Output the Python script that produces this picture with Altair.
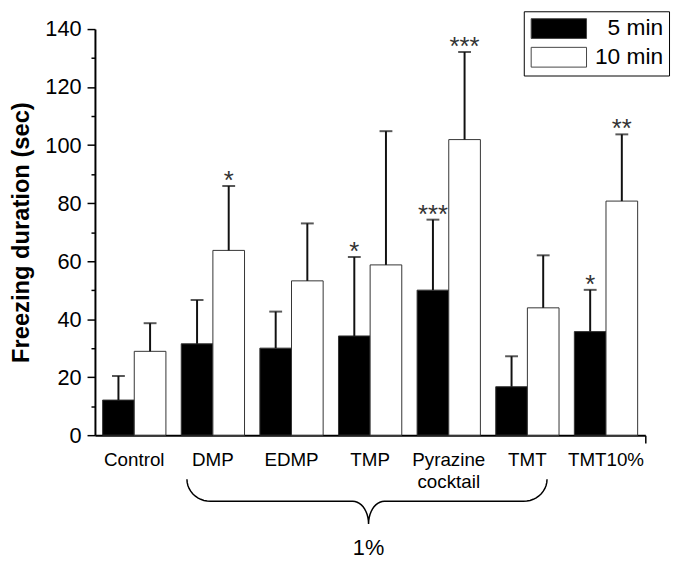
import altair as alt
import pandas as pd
import numpy as np

FONT = "Liberation Sans"

groups = ["Control", "DMP", "EDMP", "TMP", "Pyrazine cocktail", "TMT", "TMT10%"]
times = ["5 min", "10 min"]
mean_5 = [12.1, 31.5, 30.0, 34.2, 50.0, 16.7, 35.7]
sem_5 = [8.3, 15.1, 12.6, 27.2, 24.3, 10.5, 14.4]
mean_10 = [28.9, 63.7, 53.2, 58.7, 101.9, 43.9, 80.7]
sem_10 = [9.7, 22.2, 19.8, 46.1, 30.2, 18.1, 23.0]
sig_5 = ["", "", "", "*", "***", "", "*"]
sig_10 = ["", "*", "", "", "***", "", "**"]
y_major = [0, 20, 40, 60, 80, 100, 120, 140]
y_minor = [10, 30, 50, 70, 90, 110, 130]
brace_label = "1%"

rows = []
for i, g in enumerate(groups):
    rows.append(dict(group=g, time=times[0], mean=mean_5[i], upper=mean_5[i] + sem_5[i], sig=sig_5[i]))
    rows.append(dict(group=g, time=times[1], mean=mean_10[i], upper=mean_10[i] + sem_10[i], sig=sig_10[i]))
df = pd.DataFrame(rows)

# ---- curly brace under DMP..TMT (in group-index units / y data units) ----
xL, xT, xR = 1.17, 3.48, 5.75
yTop, yMid, yTip = -15.2, -22.8, -30.6
rE, rT = 0.30, 0.20
t = np.linspace(0, np.pi / 2, 12)
pts = []
pts += [(xL + rE * (1 - np.cos(a)), yMid + (yTop - yMid) * (1 - np.sin(a))) for a in t]
pts += [(xT - rT + rT * np.sin(a), yTip + (yMid - yTip) * np.cos(a)) for a in t]
pts += [(xT + rT - rT * np.sin(a), yTip + (yMid - yTip) * np.cos(a)) for a in t[::-1]]
pts += [(xR - rE * (1 - np.cos(a)), yMid + (yTop - yMid) * (1 - np.sin(a))) for a in t[::-1]]
brace_df = pd.DataFrame({"bx": [p[0] for p in pts], "by": [p[1] for p in pts], "i": list(range(len(pts)))})
pct_df = pd.DataFrame({"bx": [xT], "by": [yTip - 8.3], "t": [brace_label]})

yscale = alt.Scale(domain=[0, 140], nice=False)
xband = alt.X("group:N", sort=groups,
              scale=alt.Scale(paddingInner=0.195, paddingOuter=0.0975),
              axis=alt.Axis(ticks=False, tickSize=0, domainColor="black", domainWidth=2,
                            labelFontSize=19, labelFont=FONT, labelPadding=16, labelColor="black",
                            labelAngle=0, labelLineHeight=22,
                            labelExpr="datum.label == 'Pyrazine cocktail' ? ['Pyrazine', 'cocktail'] : datum.label",
                            title=None))
xoff = alt.XOffset("time:N", sort=times, scale=alt.Scale(paddingInner=0, paddingOuter=0))
ytitle = "Freezing duration (sec)"
yaxis = alt.Axis(values=y_major, tickSize=8, tickWidth=1.5, tickColor="black",
                 domainColor="black", domainWidth=2, labelFontSize=22, labelFont=FONT,
                 labelPadding=6, labelColor="black", titleFontSize=24, titleFont=FONT,
                 titleFontWeight="bold", titleColor="black", titleX=-74, titleY=205.5,
                 titleBaseline="middle", grid=False)

bars = alt.Chart(df).mark_bar(stroke="#333", strokeWidth=1).encode(
    x=xband, xOffset=xoff,
    y=alt.Y("mean:Q", scale=yscale, axis=yaxis, title=ytitle),
    fill=alt.Fill("time:N", sort=times,
                  scale=alt.Scale(domain=times, range=["black", "white"]),
                  legend=alt.Legend(title=None, orient="none", legendX=434, legendY=-18,
                                    symbolType="M-1,-1H4.6V1H-1Z", symbolSize=400,
                                    symbolStrokeColor="#444", symbolStrokeWidth=1,
                                    labelFontSize=23, labelFont=FONT, labelColor="black",
                                    labelAlign="right", labelOffset=112,
                                    strokeColor="black", fillColor="white",
                                    padding=6, rowPadding=4)),
)
rules = alt.Chart(df).mark_rule(color="#111", strokeWidth=2).encode(
    x=xband, xOffset=xoff,
    y=alt.Y("mean:Q", scale=yscale, title=ytitle), y2="upper:Q",
)
caps = alt.Chart(df).mark_tick(color="#111", thickness=2, size=13, orient="horizontal").encode(
    x=xband, xOffset=xoff,
    y=alt.Y("upper:Q", scale=yscale, title=ytitle),
)
stars = alt.Chart(df).mark_text(font=FONT, fontSize=26, color="#333", baseline="alphabetic", dy=3).encode(
    x=xband, xOffset=xoff,
    y=alt.Y("upper:Q", scale=yscale, title=ytitle),
    text="sig:N",
)
inner = alt.layer(bars, rules, caps, stars)

bx = alt.X("bx:Q", scale=alt.Scale(domain=[0, 7], nice=False, zero=False),
           axis=alt.Axis(values=[7], tickSize=8, tickWidth=1.5, tickColor="black", labels=False,
                         domain=False, grid=False, title=None, orient="bottom"))
by = alt.Y("by:Q", scale=yscale,
           axis=alt.Axis(values=y_minor, tickSize=4, tickWidth=1.5, tickColor="black", labels=False,
                         domain=False, grid=False, title=None, orient="left"))
brace = alt.Chart(brace_df).mark_line(color="black", strokeWidth=1.5).encode(x=bx, y=by, order="i:Q")
pct = alt.Chart(pct_df).mark_text(font=FONT, fontSize=22, color="black", baseline="middle").encode(
    x=bx, y=by, text="t:N")
outer_brace = alt.layer(brace, pct)

chart = alt.layer(inner, outer_brace).resolve_scale(x="independent").resolve_axis(
    x="independent", y="independent"
).properties(
    width=557, height=411,
    autosize=alt.AutoSizeParams(type="none"),
    padding={"left": 88, "top": 18, "right": 26, "bottom": 122},
).configure_view(stroke=None).configure_axis(grid=False)

chart.save("out.html", embed_options={"renderer": "svg", "actions": False})
